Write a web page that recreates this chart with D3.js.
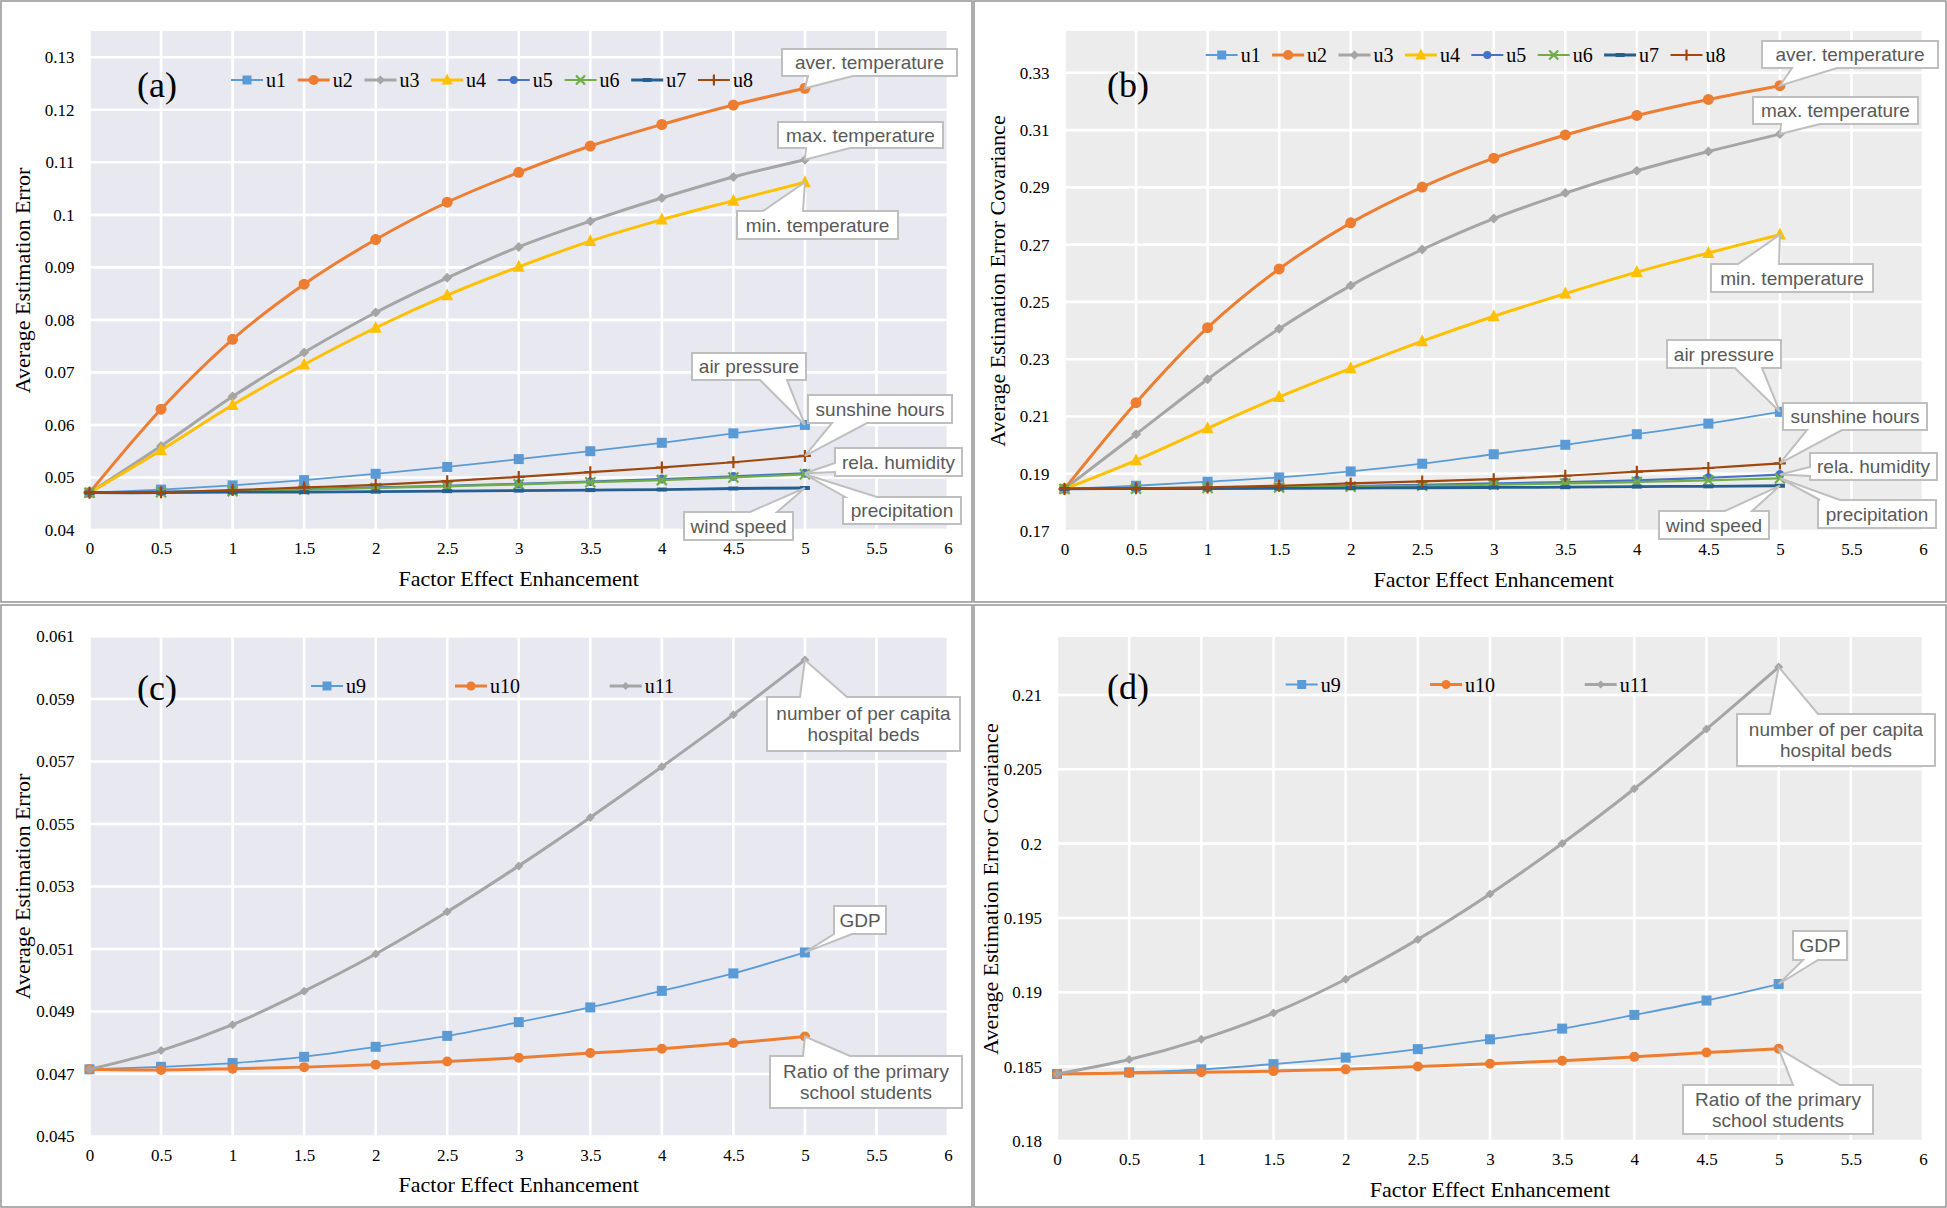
<!DOCTYPE html>
<html><head><meta charset="utf-8">
<script src="https://cdn.jsdelivr.net/npm/d3@7"></script>
<style>body{margin:0;background:#fff}svg{display:block}</style>
</head><body>
<svg id="chart" width="1947" height="1208"></svg>
<script>
// ---------------- DATA ----------------
const factorX = [0, 0.5, 1, 1.5, 2, 2.5, 3, 3.5, 4, 4.5, 5];
const xTickValues = [0, 0.5, 1, 1.5, 2, 2.5, 3, 3.5, 4, 4.5, 5, 5.5, 6];
const meteoNames = ["u1", "u2", "u3", "u4", "u5", "u6", "u7", "u8"];
const socioNames = ["u9", "u10", "u11"];

// (a) Average Estimation Error, meteorological factors
const errU1 = [0.0471, 0.0477, 0.0485, 0.0495, 0.0507, 0.0520, 0.0535, 0.0550, 0.0566, 0.0584, 0.0600];
const errU2 = [0.0471, 0.0630, 0.0763, 0.0868, 0.0953, 0.1024, 0.1081, 0.1131, 0.1172, 0.1209, 0.1241];
const errU3 = [0.0471, 0.0560, 0.0654, 0.0738, 0.0814, 0.0880, 0.0939, 0.0988, 0.1032, 0.1072, 0.1105];
const errU4 = [0.0471, 0.0552, 0.0638, 0.0715, 0.0785, 0.0847, 0.0901, 0.0950, 0.0991, 0.1027, 0.1062];
const errU5 = [0.0471, 0.0473, 0.0475, 0.0478, 0.0481, 0.0484, 0.0488, 0.0492, 0.0497, 0.0502, 0.0508];
const errU6 = [0.0471, 0.0472, 0.0474, 0.0477, 0.0480, 0.0483, 0.0487, 0.0491, 0.0495, 0.0500, 0.0506];
const errU7 = [0.0471, 0.0471, 0.0472, 0.0472, 0.0473, 0.0474, 0.0475, 0.0476, 0.0477, 0.0479, 0.0480];
const errU8 = [0.0471, 0.0472, 0.0476, 0.0481, 0.0486, 0.0493, 0.0501, 0.0510, 0.0519, 0.0529, 0.0541];
const errTicksA = [0.04, 0.05, 0.06, 0.07, 0.08, 0.09, 0.10, 0.11, 0.12, 0.13];

// (b) Average Estimation Error Covariance, meteorological factors
const covU1 = [0.1847, 0.1858, 0.1872, 0.1887, 0.1908, 0.1935, 0.1968, 0.2001, 0.2038, 0.2075, 0.2116];
const covU2 = [0.1847, 0.2148, 0.2410, 0.2615, 0.2776, 0.2901, 0.3002, 0.3083, 0.3151, 0.3207, 0.3255];
const covU3 = [0.1847, 0.2038, 0.2230, 0.2406, 0.2557, 0.2683, 0.2791, 0.2880, 0.2958, 0.3025, 0.3086];
const covU4 = [0.1847, 0.1947, 0.2059, 0.2168, 0.2268, 0.2363, 0.2450, 0.2529, 0.2604, 0.2671, 0.2735];
const covU5 = [0.1847, 0.1849, 0.1851, 0.1854, 0.1857, 0.1861, 0.1866, 0.1871, 0.1877, 0.1886, 0.1897];
const covU6 = [0.1847, 0.1848, 0.1850, 0.1852, 0.1855, 0.1858, 0.1862, 0.1866, 0.1871, 0.1877, 0.1884];
const covU7 = [0.1847, 0.1848, 0.1848, 0.1849, 0.1850, 0.1851, 0.1852, 0.1853, 0.1855, 0.1856, 0.1858];
const covU8 = [0.1847, 0.1849, 0.1852, 0.1858, 0.1866, 0.1873, 0.1881, 0.1893, 0.1907, 0.1920, 0.1936];
const covTicksB = [0.17, 0.19, 0.21, 0.23, 0.25, 0.27, 0.29, 0.31, 0.33];

// (c) Average Estimation Error, socio-economic factors
const errU9  = [0.04715, 0.04723, 0.04735, 0.04755, 0.04787, 0.04822, 0.04866, 0.04913, 0.04966, 0.05022, 0.05089];
const errU10 = [0.04715, 0.04713, 0.04717, 0.04722, 0.04730, 0.04740, 0.04752, 0.04767, 0.04781, 0.04799, 0.04820];
const errU11 = [0.04715, 0.04775, 0.04858, 0.04965, 0.05084, 0.05219, 0.05366, 0.05521, 0.05683, 0.05850, 0.06025];
const errTicksC = [0.045, 0.047, 0.049, 0.051, 0.053, 0.055, 0.057, 0.059, 0.061];

// (d) Average Estimation Error Covariance, socio-economic factors
const covU9  = [0.18451, 0.18462, 0.18482, 0.18517, 0.18561, 0.18618, 0.18684, 0.18756, 0.18848, 0.18945, 0.19056];
const covU10 = [0.18451, 0.18457, 0.18462, 0.18470, 0.18482, 0.18501, 0.18519, 0.18540, 0.18566, 0.18595, 0.18621];
const covU11 = [0.18451, 0.18548, 0.18684, 0.18861, 0.19088, 0.19356, 0.19662, 0.20001, 0.20369, 0.20771, 0.21188];
const covTicksD = [0.18, 0.185, 0.19, 0.195, 0.2, 0.205, 0.21];

const meteoLabels = {u1: "air pressure", u2: "aver. temperature", u3: "max. temperature", u4: "min. temperature",
  u5: "rela. humidity", u6: "precipitation", u7: "wind speed", u8: "sunshine hours"};
const socioLabels = {u9: ["GDP"], u10: ["Ratio of the primary", "school students"], u11: ["number of per capita", "hospital beds"]};

// ---------------- STYLES / LAYOUT ----------------
const seriesStyle = {
  u1: {color: "#5B9BD5", width: 1.8, marker: "square", size: 10},
  u2: {color: "#ED7D31", width: 3, marker: "circle", size: 11},
  u3: {color: "#A5A5A5", width: 3, marker: "diamond", size: 10},
  u4: {color: "#FFC000", width: 3, marker: "triangle", size: 12},
  u5: {color: "#4472C4", width: 2.2, marker: "circle", size: 9},
  u6: {color: "#70AD47", width: 2.2, marker: "x", size: 10},
  u7: {color: "#255E91", width: 2.8, marker: "dash", size: 10},
  u8: {color: "#9E480E", width: 2.2, marker: "plus", size: 12},
  u9: {color: "#5B9BD5", width: 1.8, marker: "square", size: 10},
  u10: {color: "#ED7D31", width: 3, marker: "circle", size: 10},
  u11: {color: "#A5A5A5", width: 3, marker: "diamond", size: 9}
};

const serif = "'Liberation Serif','Times New Roman',serif";
const sans = "'Liberation Sans',Arial,sans-serif";

const panels = [
  {frame: [1, 1, 971, 601], plot: [89.5, 948, 31, 530], yDomain: [0.04, 0.135], yTicks: errTicksA, fmt: 2,
   yTitle: "Average Estimation Error", tag: "(a)", tagPos: [157, 85], bg: "#e8e8f0",
   names: meteoNames, values: [errU1, errU2, errU3, errU4, errU5, errU6, errU7, errU8],
   legendY: 80, legendX: meteoNames.map((d, i) => 247 + i * 66.7), labels: meteoLabels,
   callouts: [
     {s: "u2", box: [782, 49, 957, 76], side: "bottom", base: [808, 853]},
     {s: "u3", box: [778, 122, 943, 148], side: "bottom", base: [806, 850]},
     {s: "u4", box: [737, 211, 898, 239], side: "top", base: [763, 803]},
     {s: "u1", box: [692, 353, 806, 380], side: "bottom", base: [760, 787]},
     {s: "u8", box: [808, 395, 952, 423], side: "bottom", base: [832, 867]},
     {s: "u5", box: [835, 448, 962, 476], side: "left", base: [463, 472]},
     {s: "u6", box: [843, 497, 961, 524], side: "top", base: [845, 877]},
     {s: "u7", box: [684, 512, 793, 540], side: "top", base: [750, 777]}
   ]},
  {frame: [974, 1, 972, 601], plot: [1064.5, 1923, 31, 531], yDomain: [0.17, 0.3446], yTicks: covTicksB, fmt: 2,
   yTitle: "Average Estimation Error Covariance", tag: "(b)", tagPos: [1128, 85], bg: "#ececec",
   names: meteoNames, values: [covU1, covU2, covU3, covU4, covU5, covU6, covU7, covU8],
   legendY: 55, legendX: meteoNames.map((d, i) => 1221.7 + i * 66.4), labels: meteoLabels,
   callouts: [
     {s: "u2", box: [1762, 41, 1938, 68], side: "bottom", base: [1792, 1837]},
     {s: "u3", box: [1753, 97, 1918, 124], side: "bottom", base: [1781, 1820]},
     {s: "u4", box: [1711, 264, 1873, 292], side: "top", base: [1738, 1779]},
     {s: "u1", box: [1667, 340, 1781, 368], side: "bottom", base: [1735, 1762]},
     {s: "u8", box: [1783, 403, 1927, 430], side: "bottom", base: [1807, 1842]},
     {s: "u5", box: [1810, 453, 1937, 480], side: "left", base: [467, 476]},
     {s: "u6", box: [1818, 500, 1936, 528], side: "top", base: [1820, 1840]},
     {s: "u7", box: [1659, 511, 1769, 539], side: "top", base: [1725, 1752]}
   ]},
  {frame: [1, 605, 971, 602], plot: [89.5, 948, 636.5, 1136.5], yDomain: [0.045, 0.061], yTicks: errTicksC, fmt: 3,
   yTitle: "Average Estimation Error", tag: "(c)", tagPos: [157, 688], bg: "#e8e8f0",
   names: socioNames, values: [errU9, errU10, errU11],
   legendY: 686, legendX: [327, 471, 625.7], labels: socioLabels,
   callouts: [
     {s: "u11", box: [767, 697, 960, 751], side: "top", base: [800, 847]},
     {s: "u9", box: [834, 906, 886, 934], side: "bottom", base: [834, 852]},
     {s: "u10", box: [770, 1056, 962, 1108], side: "top", base: [803, 850]}
   ]},
  {frame: [974, 605, 972, 602], plot: [1057, 1923, 637, 1141], yDomain: [0.18, 0.2139], yTicks: covTicksD, fmt: 3,
   yTitle: "Average Estimation Error Covariance", tag: "(d)", tagPos: [1128, 687], bg: "#ececec",
   names: socioNames, values: [covU9, covU10, covU11],
   legendY: 684.5, legendX: [1301.7, 1446, 1600.7], labels: socioLabels,
   callouts: [
     {s: "u11", box: [1737, 714, 1935, 766], side: "top", base: [1770, 1818]},
     {s: "u9", box: [1793, 931, 1847, 960], side: "bottom", base: [1803, 1818]},
     {s: "u10", box: [1683, 1085, 1873, 1134], side: "top", base: [1793, 1840]}
   ]}
];

// ---------------- DRAW ----------------
const svg = d3.select("#chart");

function marker(g, type, x, y, color, size) {
  const h = size / 2;
  if (type === "square") {
    g.append("rect").attr("x", x - h).attr("y", y - h).attr("width", size).attr("height", size).attr("fill", color);
  } else if (type === "circle") {
    g.append("circle").attr("cx", x).attr("cy", y).attr("r", h).attr("fill", color);
  } else if (type === "diamond") {
    g.append("path").attr("d", `M${x},${y - h}L${x + h},${y}L${x},${y + h}L${x - h},${y}Z`).attr("fill", color);
  } else if (type === "triangle") {
    g.append("path").attr("d", `M${x},${y - h - 1}L${x + h},${y + h - 1}L${x - h},${y + h - 1}Z`).attr("fill", color);
  } else if (type === "x") {
    g.append("path").attr("d", `M${x - h},${y - h}L${x + h},${y + h}M${x - h},${y + h}L${x + h},${y - h}`)
      .attr("stroke", color).attr("stroke-width", 2.2).attr("fill", "none");
  } else if (type === "plus") {
    g.append("path").attr("d", `M${x - h},${y}L${x + h},${y}M${x},${y - h}L${x},${y + h}`)
      .attr("stroke", color).attr("stroke-width", 2.2).attr("fill", "none");
  } else if (type === "dash") {
    g.append("rect").attr("x", x - h).attr("y", y - 2).attr("width", size).attr("height", 4).attr("fill", color);
  }
}

function calloutPath(box, side, base, ax, ay) {
  const [x0, y0, x1, y1] = box;
  if (side === "bottom")
    return `M${x0},${y0}H${x1}V${y1}H${base[1]}L${ax},${ay}L${base[0]},${y1}H${x0}Z`;
  if (side === "top")
    return `M${x0},${y0}H${base[0]}L${ax},${ay}L${base[1]},${y0}H${x1}V${y1}H${x0}Z`;
  if (side === "left")
    return `M${x0},${y0}H${x1}V${y1}H${x0}V${base[1]}L${ax},${ay}L${x0},${base[0]}Z`;
  return `M${x0},${y0}H${x1}V${base[0]}L${ax},${ay}L${x1},${base[1]}V${y1}H${x0}Z`;
}

panels.forEach(p => {
  const g = svg.append("g");
  const [fx, fy, fw, fh] = p.frame;
  g.append("rect").attr("x", fx).attr("y", fy).attr("width", fw).attr("height", fh)
    .attr("fill", "#fff").attr("stroke", "#9a9a9a").attr("stroke-width", 1.6);

  const [px0, px1, py0, py1] = p.plot;
  const x = d3.scaleLinear().domain([0, 6]).range([px0, px1]);
  const y = d3.scaleLinear().domain(p.yDomain).range([py1, py0]);

  g.append("rect").attr("x", px0).attr("y", py0).attr("width", px1 - px0).attr("height", py1 - py0).attr("fill", p.bg);

  // gridlines
  g.append("g").selectAll("line").data(xTickValues).join("line")
    .attr("x1", d => x(d)).attr("x2", d => x(d)).attr("y1", py0).attr("y2", py1)
    .attr("stroke", "#fff").attr("stroke-width", 2.6);
  g.append("g").selectAll("line").data(p.yTicks).join("line")
    .attr("x1", px0).attr("x2", px1).attr("y1", d => y(d)).attr("y2", d => y(d))
    .attr("stroke", "#fff").attr("stroke-width", 2.6);

  // axes (labels only)
  const xAxis = d3.axisBottom(x).tickValues(xTickValues).tickSize(0).tickPadding(12).tickFormat(d => String(d));
  const xa = g.append("g").attr("transform", `translate(0,${py1})`).call(xAxis);
  xa.select(".domain").remove();
  xa.selectAll("text").attr("font-family", serif).attr("font-size", 17).attr("fill", "#000");

  const yAxis = d3.axisLeft(y).tickValues(p.yTicks).tickSize(0).tickPadding(15)
    .tickFormat(d => String(+d.toFixed(p.fmt)));
  const ya = g.append("g").attr("transform", `translate(${px0},0)`).call(yAxis);
  ya.select(".domain").remove();
  ya.selectAll("text").attr("font-family", serif).attr("font-size", 17).attr("fill", "#000");

  // axis titles
  g.append("text").attr("x", (px0 + px1) / 2).attr("y", py1 + 48).attr("text-anchor", "middle")
    .attr("dominant-baseline", "central").attr("font-family", serif).attr("font-size", 22).attr("fill", "#000")
    .text("Factor Effect Enhancement");
  g.append("text").attr("transform", `translate(${px0 - 67},${(py0 + py1) / 2}) rotate(-90)`)
    .attr("text-anchor", "middle").attr("dominant-baseline", "central")
    .attr("font-family", serif).attr("font-size", 22).attr("fill", "#000").text(p.yTitle);

  // tag
  g.append("text").attr("x", p.tagPos[0]).attr("y", p.tagPos[1]).attr("text-anchor", "middle")
    .attr("dominant-baseline", "central").attr("font-family", serif).attr("font-size", 36).attr("fill", "#000")
    .text(p.tag);

  // series
  const line = d3.line().x((d, i) => x(factorX[i])).y(d => y(d)).curve(d3.curveCatmullRom.alpha(0.5));
  p.names.forEach((name, si) => {
    const st = seriesStyle[name];
    const vals = p.values[si];
    const sg = g.append("g");
    sg.append("path").attr("d", line(vals)).attr("fill", "none").attr("stroke", st.color)
      .attr("stroke-width", st.width).attr("stroke-linejoin", "round");
    vals.forEach((v, i) => marker(sg, st.marker, x(factorX[i]), y(v), st.color, st.size));
  });

  // legend
  p.names.forEach((name, i) => {
    const st = seriesStyle[name];
    const lx = p.legendX[i], ly = p.legendY;
    g.append("line").attr("x1", lx - 16).attr("x2", lx + 16).attr("y1", ly).attr("y2", ly)
      .attr("stroke", st.color).attr("stroke-width", Math.max(st.width, 2));
    marker(g, st.marker, lx, ly, st.color, st.size - 1);
    g.append("text").attr("x", lx + 19).attr("y", ly).attr("dominant-baseline", "central")
      .attr("font-family", serif).attr("font-size", 20).attr("fill", "#000").text(name);
  });

  // callouts
  p.callouts.forEach(c => {
    const si = p.names.indexOf(c.s);
    const vals = p.values[si];
    const ax = x(factorX[factorX.length - 1]), ay = y(vals[vals.length - 1]);
    g.append("path").attr("d", calloutPath(c.box, c.side, c.base, ax, ay))
      .attr("fill", "#fff").attr("stroke", "#bfbfbf").attr("stroke-width", 2);
    const lines = [].concat(p.labels[c.s]);
    const cx = (c.box[0] + c.box[2]) / 2, cy = (c.box[1] + c.box[3]) / 2;
    const lh = 21;
    lines.forEach((t, k) => {
      g.append("text").attr("x", cx).attr("y", cy + (k - (lines.length - 1) / 2) * lh)
        .attr("text-anchor", "middle").attr("dominant-baseline", "central")
        .attr("font-family", sans).attr("font-size", 19).attr("fill", "#595959").text(t);
    });
  });
});
</script>
</body></html>
